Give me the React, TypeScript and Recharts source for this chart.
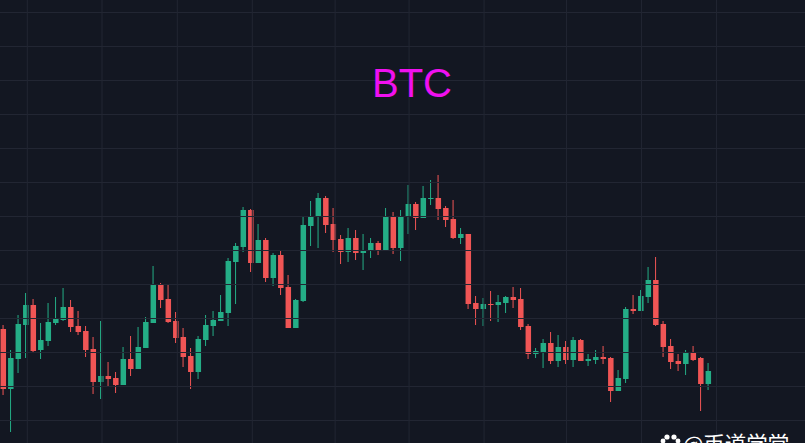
import React from "react";
import { ComposedChart, Bar, Cell, XAxis, YAxis, ReferenceLine } from "recharts";

// candle values (no price axis is shown, so units are arbitrary)
const opens = [
  114, 54, 84, 118, 138, 93, 102, 120, 123, 136, 117, 112, 94, 61, 67, 65, 58, 84, 74, 95,
  120, 158, 144, 122, 106, 87, 71, 103, 117, 122, 130, 181, 196, 233, 180, 203, 165, 188, 156, 115,
  142, 217, 226, 245, 219, 204, 191, 205, 190, 192, 200, 193, 227, 195, 226, 239, 225, 244, 245, 235,
  224, 205, 209, 140, 134, 139, 138, 140, 146, 144, 117, 89, 91, 100, 82, 96, 83, 103, 82, 83,
  86, 85, 52, 64, 134, 132, 146, 163, 119, 97, 82, 79, 90, 85, 59,
];
const closes = [
  54, 85, 119, 138, 92, 103, 121, 124, 136, 116, 111, 93, 61, 67, 64, 58, 84, 74, 96, 121,
  158, 143, 121, 105, 86, 71, 104, 118, 123, 131, 182, 197, 233, 180, 203, 165, 188, 155, 115, 143,
  218, 227, 245, 218, 203, 191, 205, 190, 193, 200, 193, 227, 195, 227, 239, 225, 245, 245, 234, 223,
  205, 209, 139, 134, 139, 138, 141, 146, 143, 116, 89, 92, 100, 82, 96, 83, 103, 82, 84, 86,
  84, 52, 65, 134, 132, 147, 163, 118, 96, 81, 79, 90, 83, 59, 72,
];
const highs = [
  118, 93, 128, 150, 144, 120, 140, 146, 155, 143, 132, 117, 106, 122, 81, 71, 96, 107, 116, 126,
  177, 160, 158, 131, 115, 95, 107, 128, 132, 148, 185, 200, 236, 234, 219, 205, 190, 193, 168, 144,
  227, 242, 250, 247, 235, 208, 215, 213, 209, 205, 202, 235, 231, 233, 258, 241, 257, 263, 268, 237,
  243, 215, 209, 147, 145, 152, 148, 147, 156, 155, 119, 95, 104, 111, 108, 102, 106, 104, 89, 93,
  97, 86, 73, 136, 148, 153, 176, 186, 122, 104, 89, 93, 97, 86, 80,
];
const lows = [
  48, 11, 70, 85, 90, 84, 97, 118, 122, 111, 108, 86, 49, 44, 56, 50, 58, 67, 74, 95,
  120, 135, 120, 100, 76, 54, 64, 97, 107, 122, 117, 139, 191, 171, 180, 161, 157, 148, 115, 115,
  141, 197, 195, 210, 191, 179, 181, 183, 173, 185, 188, 193, 189, 182, 209, 213, 225, 238, 223, 216,
  204, 199, 134, 118, 117, 122, 121, 130, 135, 113, 84, 85, 75, 79, 76, 79, 76, 82, 77, 79,
  79, 41, 52, 60, 129, 132, 140, 117, 86, 74, 72, 68, 82, 32, 53,
];
const gridLevels = [430.5, 396.5, 362.5, 328.5, 294.5, 260.5, 226.5, 192.5, 158.5, 124.5, 90.5, 56.5, 22.5];
const gridCandles = [3.2, 13.16, 23.2, 33.2, 44.24, 54.1, 64.1, 75.1, 85.1, 95.1];

const GREEN = "#24ad86";
const RED = "#f05555";
const GRID = "#222633";
const BG = "#131722";

const data = opens.map((open, i) => ({
  idx: i,
  wick: [lows[i], highs[i]],
  body: [Math.min(open, closes[i]), Math.max(open, closes[i])],
}));

const colorOf = (i: number) => (closes[i] >= opens[i] ? GREEN : RED);

export default function App() {
  return (
    <div style={{ position: "absolute", left: 0, top: 0, width: 805, height: 443, background: BG, overflow: "hidden" }}>
      <ComposedChart
        width={805}
        height={443}
        data={data}
        margin={{ top: 0, right: 0, bottom: 0, left: 0 }}
        barCategoryGap={0}
      >
        <XAxis xAxisId="wick" dataKey="idx" type="number" domain={[-0.44, 106.89]} hide />
        <XAxis xAxisId="body" dataKey="idx" type="number" domain={[-0.44, 106.89]} hide />
        <YAxis domain={[0, 443]} hide />
        {gridLevels.map((v) => (
          <ReferenceLine key={v} xAxisId="wick" y={v} stroke={GRID} strokeWidth={1} />
        ))}
        {gridCandles.map((v) => (
          <ReferenceLine key={v} xAxisId="wick" x={v} stroke={GRID} strokeWidth={1} />
        ))}
        <Bar xAxisId="wick" dataKey="wick" barSize={1} isAnimationActive={false}>
          {data.map((d) => (
            <Cell key={d.idx} fill={colorOf(d.idx)} />
          ))}
        </Bar>
        <Bar xAxisId="body" dataKey="body" barSize={5.5} minPointSize={1} isAnimationActive={false}>
          {data.map((d) => (
            <Cell key={d.idx} fill={colorOf(d.idx)} />
          ))}
        </Bar>
      </ComposedChart>
      <div
        style={{
          position: "absolute",
          left: 372,
          top: 60,
          fontFamily: "'Liberation Sans', Arial, sans-serif",
          fontSize: 40,
          lineHeight: "46px",
          color: "#f010f0",
        }}
      >
        BTC
      </div>
      <svg width={24} height={20} style={{ position: "absolute", left: 660, top: 433 }}>
        <circle cx={7} cy={4} r={2.6} fill="#ffffff" />
        <circle cx={14} cy={4} r={2.6} fill="#ffffff" />
        <circle cx={3} cy={8} r={2.4} fill="#ffffff" />
        <circle cx={18} cy={8} r={2.4} fill="#ffffff" />
      </svg>
      <div
        style={{
          position: "absolute",
          left: 683,
          top: 430,
          fontFamily: "'Noto Sans CJK SC', sans-serif",
          fontSize: 21.5,
          lineHeight: "26px",
          color: "#ffffff",
          whiteSpace: "nowrap",
        }}
      >
        @币道学堂
      </div>
    </div>
  );
}
